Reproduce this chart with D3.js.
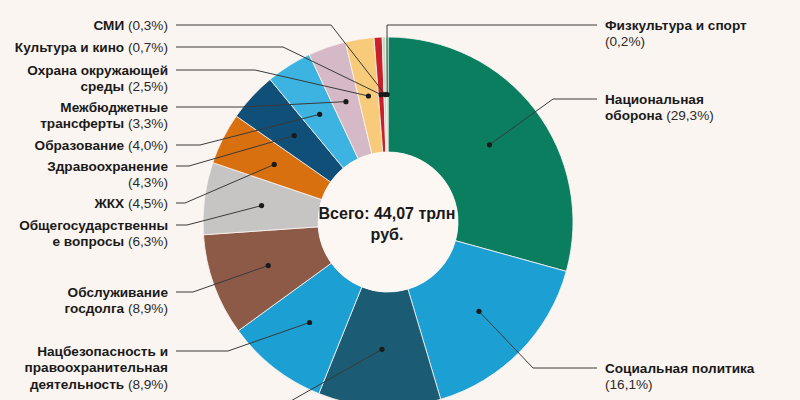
<!DOCTYPE html>
<html><head><meta charset="utf-8">
<script src="https://cdn.jsdelivr.net/npm/d3@7"></script>
<style>
html,body{margin:0;padding:0;background:#fbf5f1;}
svg{display:block;font-family:"Liberation Sans",Arial,sans-serif;}
</style></head>
<body><svg id="c" width="800" height="400"></svg>
<script>
// Data: budget shares, clockwise from the top
const categories = ["Национальная оборона","Социальная политика","Национальная экономика","Нацбезопасность и правоохранительная деятельность","Обслуживание госдолга","Общегосударственные вопросы","ЖКХ","Здравоохранение","Образование","Межбюджетные трансферты","Охрана окружающей среды","Культура и кино","СМИ","Физкультура и спорт"];
const shares = [29.3,16.1,10.7,8.9,8.9,6.3,4.5,4.3,4.0,3.3,2.5,0.7,0.3,0.2];
const colors = ["#0a7e5f","#1c9fd2","#1b5b73","#1c9fd2","#8d5a47","#c6c5c4","#d9700f","#0f4f78","#3cb3e0","#d6b9c6","#f8cb7b","#c8202a","#bcdcc2","#a6d6ae"];
const totalLabel = ["Всего: 44,07 трлн","руб."];
// label text lines: [bold part, regular part] per line
const labelLines = [
  [["Национальная",""],["оборона"," (29,3%)"]],
  [["Социальная политика",""],["","(16,1%)"]],
  [["Национальная экономика"," (10,7%)"]],
  [["Нацбезопасность и",""],["правоохранительная",""],["деятельность"," (8,9%)"]],
  [["Обслуживание",""],["госдолга"," (8,9%)"]],
  [["Общегосударственны",""],["е вопросы"," (6,3%)"]],
  [["ЖКХ"," (4,5%)"]],
  [["Здравоохранение",""],["","(4,3%)"]],
  [["Образование"," (4,0%)"]],
  [["Межбюджетные",""],["трансферты"," (3,3%)"]],
  [["Охрана окружающей",""],["среды"," (2,5%)"]],
  [["Культура и кино"," (0,7%)"]],
  [["СМИ"," (0,3%)"]],
  [["Физкультура и спорт",""],["","(0,2%)"]]
];
// layout of labels: side, first line y, elbow x
const layout = [
  {side:"r", y:99, ex:553},
  {side:"r", y:368, ex:533},
  {side:"l", y:432, ex:236},
  {side:"l", y:351, ex:228},
  {side:"l", y:292, ex:193},
  {side:"l", y:225, ex:187},
  {side:"l", y:203, ex:185},
  {side:"l", y:166, ex:189},
  {side:"l", y:145, ex:200},
  {side:"l", y:107, ex:242},
  {side:"l", y:70, ex:255},
  {side:"l", y:47, ex:283},
  {side:"l", y:25, ex:331},
  {side:"r", y:25, ex:387}
];

const svg = d3.select("#c");
svg.append("rect").attr("width",800).attr("height",400).attr("fill","#fbf5f1");
const cx = 388, cy = 222, rOut = 185, rIn = 70;
const g = svg.append("g").attr("transform",`translate(${cx},${cy})`);
const pie = d3.pie().sort(null).value(d=>d)(shares);
const arc = d3.arc().innerRadius(rIn).outerRadius(rOut);
g.selectAll("path.s").data(pie).enter().append("path")
  .attr("class","s").attr("d",arc).attr("fill",(d,i)=>colors[i])
  .attr("stroke","#fbf5f1").attr("stroke-width",0.8);
g.append("circle").attr("r",rIn).attr("fill","#fcf7f3");

// center text
const ct = g.append("text").attr("text-anchor","middle").attr("font-weight","bold")
  .attr("font-size",16).attr("fill","#1a1a1a");
totalLabel.forEach((t,i)=>ct.append("tspan").attr("x",-1).attr("y",-3.5+i*21).text(t));

// leader lines + dots + labels
const lh = 16.5;
pie.forEach((d,i)=>{
  const [px,py] = arc.centroid(d);
  const dx = cx+px, dy = cy+py;
  const L = layout[i];
  const lx = L.side==="l" ? 176 : 597;
  svg.append("polyline").attr("points",`${lx},${L.y} ${L.ex},${L.y} ${dx},${dy}`)
    .attr("fill","none").attr("stroke","#3a3a3a").attr("stroke-width",1);
  svg.append("circle").attr("cx",dx).attr("cy",dy).attr("r",2.6).attr("fill","#1a1a1a");
  const tx = L.side==="l" ? 168 : 605;
  const t = svg.append("text").attr("font-size",13.6).attr("fill","#1a1a1a")
    .attr("text-anchor",L.side==="l"?"end":"start");
  labelLines[i].forEach((ln,j)=>{
    const yy = L.y + 4.8 + j*lh;
    const a = t.append("tspan").attr("x",tx).attr("y",yy).attr("font-weight","bold").text(ln[0]);
    if(ln[1]){
      if(ln[0]) t.append("tspan").attr("font-weight","normal").attr("fill","#2a2a2a").text(ln[1]);
      else a.attr("font-weight","normal").attr("fill","#2a2a2a").text(ln[1]);
    }
  });
});
</script></body></html>
